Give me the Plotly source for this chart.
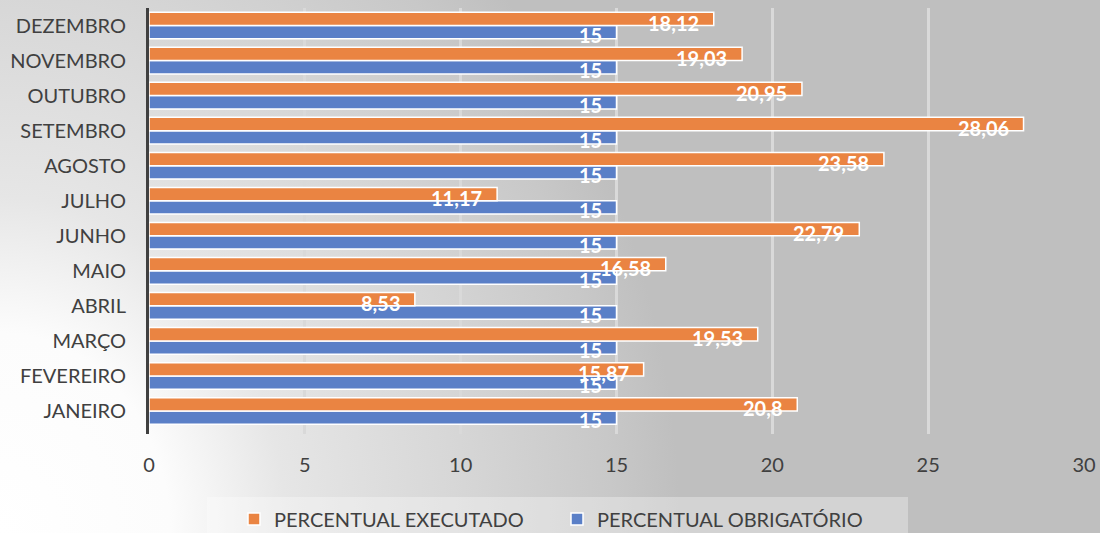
import base64
import plotly.graph_objects as go

# ---- data ----
meses = ["JANEIRO", "FEVEREIRO", "MARÇO", "ABRIL", "MAIO", "JUNHO",
         "JULHO", "AGOSTO", "SETEMBRO", "OUTUBRO", "NOVEMBRO", "DEZEMBRO"]
executado = [20.8, 15.87, 19.53, 8.53, 16.58, 22.79, 11.17, 23.58, 28.06, 20.95, 19.03, 18.12]
obrigatorio = [15, 15, 15, 15, 15, 15, 15, 15, 15, 15, 15, 15]
x_ticks = [0, 5, 10, 15, 20, 25, 30]

COR_EXEC = "#EA8442"
COR_OBRIG = "#5A7FC7"
FONT = "Lato"
TXT = "#404040"


def fmt(v):
    return str(v).replace(".", ",")


# background gradient (white in bottom-left, grey elsewhere)
svg = (
    '<svg xmlns="http://www.w3.org/2000/svg" width="1100" height="533" '
    'viewBox="0 0 1100 533" preserveAspectRatio="none">'
    '<defs><radialGradient id="g" gradientUnits="userSpaceOnUse" cx="0" cy="0" r="1" '
    'gradientTransform="translate(0,533) scale(680,800)">'
    '<stop offset="0" stop-color="#ffffff"/>'
    '<stop offset="0.25" stop-color="#fcfcfc"/>'
    '<stop offset="0.42" stop-color="#e6e6e6"/>'
    '<stop offset="0.67" stop-color="#d7d7d7"/>'
    '<stop offset="0.9" stop-color="#c8c8c8"/>'
    '<stop offset="1" stop-color="#bfbfbf"/>'
    '</radialGradient></defs>'
    '<rect x="0" y="0" width="1100" height="533" fill="url(#g)"/></svg>'
)
bg_src = "data:image/svg+xml;base64," + base64.b64encode(svg.encode()).decode()

W, H = 1100, 533
ML, MR, MT, MB = 149, 16, 8, 99
PW, PH = W - ML - MR, H - MT - MB

fig = go.Figure()
fig.add_trace(go.Bar(
    y=meses, x=obrigatorio, orientation="h", name="PERCENTUAL OBRIGATÓRIO",
    marker=dict(color=COR_OBRIG, line=dict(color="white", width=1.5)),
    hoverinfo="x",
))
fig.add_trace(go.Bar(
    y=meses, x=executado, orientation="h", name="PERCENTUAL EXECUTADO",
    marker=dict(color=COR_EXEC, line=dict(color="white", width=1.5)),
    hoverinfo="x",
))

annotations = []
for m, e, o in zip(meses, executado, obrigatorio):
    annotations.append(dict(x=e, y=m, xref="x", yref="y", text=fmt(e), showarrow=False,
                            xanchor="right", yanchor="middle", xshift=-13, yshift=3,
                            font=dict(family=FONT, size=20, color="white", weight="bold")))
    annotations.append(dict(x=o, y=m, xref="x", yref="y", text=fmt(o), showarrow=False,
                            xanchor="right", yanchor="middle", xshift=-13, yshift=-9,
                            font=dict(family=FONT, size=20, color="white", weight="bold")))

fig.update_layout(
    width=W, height=H, autosize=False,
    margin=dict(l=ML, r=MR, t=MT, b=MB, pad=0, autoexpand=False),
    paper_bgcolor="rgba(0,0,0,0)",
    plot_bgcolor="rgba(0,0,0,0)",
    barmode="group", bargap=0.24, bargroupgap=0.0,
    font=dict(family=FONT, size=20, color=TXT),
    showlegend=True,
    legend=dict(orientation="h", traceorder="reversed",
                xref="container", yref="container",
                x=234 / W, xanchor="left",
                y=(H - 519) / H, yanchor="middle",
                bgcolor="rgba(0,0,0,0)", font=dict(family=FONT, size=20, color=TXT),
                entrywidth=278),
    xaxis=dict(range=[0, 30], tickvals=x_ticks, ticktext=[str(t) for t in x_ticks],
               showgrid=True, gridcolor="#d9d9d9", gridwidth=2.5, zeroline=False,
               showline=False, ticks="outside", ticklen=13, tickcolor="rgba(0,0,0,0)",
               tickfont=dict(family=FONT, size=20, color=TXT), fixedrange=True,
               automargin=False),
    yaxis=dict(showgrid=False, zeroline=False, showline=True, linecolor="#404040",
               linewidth=3, ticks="outside", ticklen=16, tickcolor="rgba(0,0,0,0)",
               tickfont=dict(family=FONT, size=20, color=TXT), fixedrange=True,
               automargin=False),
    annotations=annotations,
    images=[dict(source=bg_src, xref="paper", yref="paper",
                 x=-ML / PW, y=1 + MT / PH, sizex=W / PW, sizey=H / PH,
                 xanchor="left", yanchor="top", sizing="stretch", layer="below")],
    shapes=[dict(type="rect", xref="paper", yref="paper",
                 x0=(207 - ML) / PW, x1=(908 - ML) / PW,
                 y0=(MT + PH - 545) / PH, y1=(MT + PH - 497) / PH,
                 fillcolor="rgba(255,255,255,0.32)", line=dict(width=0), layer="below")],
)

fig.write_html("out.html", config={"displayModeBar": False},
               post_script="document.body.style.margin='0';document.body.style.overflow='hidden';")
